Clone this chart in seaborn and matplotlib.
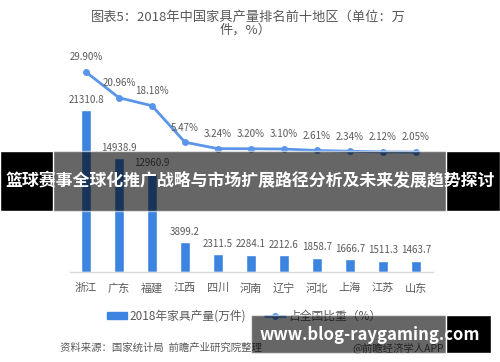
import matplotlib
matplotlib.use('Agg')
import matplotlib.pyplot as plt
from matplotlib.patches import Rectangle
from matplotlib.lines import Line2D
import seaborn as sns

# data
regions = ['浙江', '广东', '福建', '江西', '四川', '河南', '辽宁', '河北', '上海', '江苏', '山东']
output = [21310.8, 14938.9, 12960.9, 3899.2, 2311.5, 2284.1, 2212.6, 1858.7, 1666.7, 1511.3, 1463.7]
share = [29.90, 20.96, 18.18, 5.47, 3.24, 3.20, 3.10, 2.61, 2.34, 2.12, 2.05]

bar_color = '#3D84E0'
line_color = '#5A95EA'
text_color = '#595959'

sns.set_style('white')
plt.rcParams['font.family'] = ['Noto Sans CJK SC', 'DejaVu Sans']

fig = plt.figure(figsize=(5, 3.62), dpi=100)
ax = fig.add_axes([0.139, 0.2486, 0.726, 0.5856])

sns.barplot(x=regions, y=output, color=bar_color, width=0.3, saturation=1, ax=ax)
ax.set_xlim(-0.5, 10.5)
ax.set_ylim(0, 27900)
ax.bar_label(ax.containers[0], labels=[f'{v:.1f}' for v in output],
             padding=4, fontsize=7, color=text_color)

ax2 = ax.twinx()
sns.lineplot(x=list(range(len(regions))), y=share, color=line_color, marker='o',
             markersize=5, markeredgewidth=0, linewidth=2, sort=False, ax=ax2)
ax2.set_ylim(-39.7, 34.1)
for i, v in enumerate(share):
    ax2.annotate(f'{v:.2f}%', (i, v), xytext=(0, 7), textcoords='offset points',
                 ha='center', va='bottom', fontsize=7, color=text_color)

for a in (ax, ax2):
    a.set_xlabel('')
    a.set_ylabel('')
    a.set_yticks([])
    for s in ('top', 'right', 'left'):
        a.spines[s].set_visible(False)
ax2.spines['bottom'].set_visible(False)
ax.spines['bottom'].set_color('#D9D9D9')
ax.spines['bottom'].set_linewidth(1)
ax.tick_params(axis='x', length=0, pad=8, labelsize=8, labelcolor=text_color)

# title
fig.text(0.496, 1 - 17 / 362, '图表5：2018年中国家具产量排名前十地区（单位：万',
         ha='center', va='center', fontsize=9.5, color=text_color)
fig.text(0.492, 1 - 30 / 362, '件，%）', ha='center', va='center',
         fontsize=9.5, color=text_color)

# legend
handles = [Rectangle((0, 0), 1, 1, color=bar_color),
           Line2D([], [], color=line_color, marker='o', markersize=4, linewidth=2)]
fig.legend(handles, ['2018年家具产量(万件)', '占全国比重（%）'], loc='center',
           bbox_to_anchor=(0.488, 1 - 316 / 362), ncol=2, frameon=False,
           fontsize=8.5, labelcolor=text_color, handlelength=1.7, handleheight=0.5,
           handletextpad=0.2, columnspacing=1.6)

# source lines
fig.text(60 / 500, 1 - 348 / 362, '资料来源：国家统计局  前瞻产业研究院整理',
         ha='left', va='center', fontsize=7.5, color=text_color)
fig.text(352 / 500, 1 - 348 / 362, '@前瞻经济学人APP', ha='left', va='center',
         fontsize=7.5, color=text_color)

# overlay banner
fig.patches.append(Rectangle((0, 1 - 211 / 362), 1, 60 / 362, transform=fig.transFigure,
                             facecolor='black', alpha=0.6, zorder=10))
fig.patches.append(Rectangle((0, 1 - 211 / 362), 53 / 500, 60 / 362, transform=fig.transFigure,
                             facecolor='black', zorder=11))
fig.patches.append(Rectangle((446 / 500, 1 - 211 / 362), 54 / 500, 60 / 362,
                             transform=fig.transFigure, facecolor='black', zorder=11))
fig.text(0.5, 1 - 181 / 362, '篮球赛事全球化推广战略与市场扩展路径分析及未来发展趋势探讨',
         ha='center', va='center', fontsize=12.2, fontweight='bold', color='white', zorder=12)

# site watermark box
fig.patches.append(Rectangle((251 / 500, 1 - 353 / 362), 195 / 500, 38 / 362,
                             transform=fig.transFigure, facecolor='black', alpha=0.6, zorder=10))
fig.patches.append(Rectangle((446 / 500, 1 - 353 / 362), 45 / 500, 38 / 362,
                             transform=fig.transFigure, facecolor='black', zorder=11))
fig.text(370 / 500, 1 - 335 / 362, 'www.blog-raygaming.com', ha='center', va='center',
         fontsize=12, fontweight='bold', color='white', zorder=12)

fig.savefig('out.png', dpi=100)
